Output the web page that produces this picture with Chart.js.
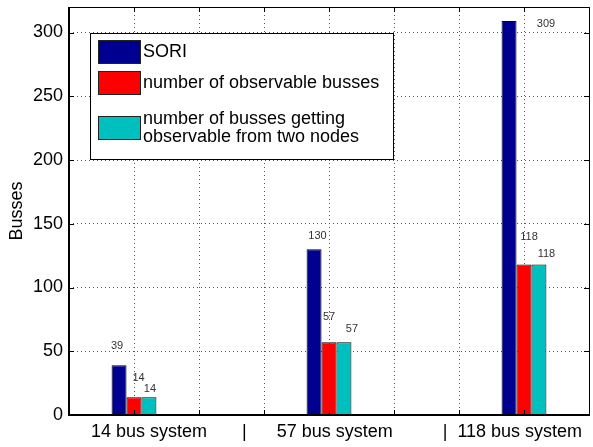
<!DOCTYPE html>
<html lang="en">
<head>
    <meta charset="UTF-8">
    <title>Busses</title>
    <script src="https://cdn.jsdelivr.net/npm/chart.js"></script>
    <style>
        body {
            margin: 0;
            padding: 0;
            background: #fff;
        }
        #wrap {
            width: 593px;
            height: 447px;
        }
    </style>
</head>
<body>

<div id="wrap"><canvas id="busChart" width="593" height="447"></canvas></div>

<script>
    // Data
    const categories = ['14 bus system', '57 bus system', '118 bus system'];
    const seriesNames = [
        'SORI',
        'number of observable busses',
        ['number of busses getting', 'observable from two nodes']
    ];
    const sori = [39, 130, 309];
    const observable = [14, 57, 118];
    const fromTwoNodes = [14, 57, 118];
    const yTicks = [0, 50, 100, 150, 200, 250, 300];

    const colors = ['#000090', '#ff0000', '#00bfbf'];
    const FONT = '"Liberation Sans", Arial, sans-serif';

    // x axis runs over 9 slots (0..8), groups sit on slots 1, 4, 7
    const slots = ['', '', '', '', '', '', '', '', ''];
    function toSlots(values) {
        const out = slots.map(() => null);
        values.forEach((v, i) => { out[1 + 3 * i] = v; });
        return out;
    }

    // x label is one long string like the original
    const xTitle = '   ' + categories[0] + ' '.repeat(7) + '|' + ' '.repeat(6) +
        categories[1] + ' '.repeat(10) + '|' + '  ' + categories[2];

    // label nudges (px) relative to bar centre / bar top, per series per group
    const labelNudge = [
        [[-2, -19], [3.5, -13], [37, 3]],
        [[4.5, -19], [0, -25], [5, -28]],
        [[1, -8], [8, -13], [7.5, -11]]
    ];

    const valueLabels = {
        id: 'valueLabels',
        afterDatasetsDraw(chart) {
            const ctx = chart.ctx;
            ctx.save();
            ctx.font = '11px ' + FONT;
            ctx.fillStyle = '#333';
            ctx.textAlign = 'center';
            ctx.textBaseline = 'middle';
            chart.data.datasets.forEach((ds, d) => {
                const meta = chart.getDatasetMeta(d);
                categories.forEach((c, g) => {
                    const bar = meta.data[1 + 3 * g];
                    const v = ds.data[1 + 3 * g];
                    const n = labelNudge[d][g];
                    ctx.fillText(String(v), bar.x + n[0], bar.y + n[1]);
                });
            });
            ctx.restore();
        }
    };

    const boxAndLegend = {
        id: 'boxAndLegend',
        afterDraw(chart) {
            const ctx = chart.ctx;
            const a = chart.chartArea;
            const xs = chart.scales.x, ys = chart.scales.y;
            ctx.save();
            ctx.strokeStyle = '#000';

            // axes box
            ctx.lineWidth = 1;
            ctx.beginPath();
            ctx.moveTo(a.left, a.top + 0.5);
            ctx.lineTo(a.right + 0.5, a.top + 0.5);
            ctx.lineTo(a.right + 0.5, a.bottom);
            ctx.stroke();
            ctx.lineWidth = 2;
            ctx.beginPath();
            ctx.moveTo(a.left, a.top);
            ctx.lineTo(a.left, a.bottom);
            ctx.lineTo(a.right + 1, a.bottom);
            ctx.stroke();

            // inward tick marks
            ctx.lineWidth = 1;
            ctx.beginPath();
            yTicks.forEach(t => {
                const y = Math.round(ys.getPixelForValue(t)) + 0.5;
                ctx.moveTo(a.left, y); ctx.lineTo(a.left + 5, y);
                ctx.moveTo(a.right, y); ctx.lineTo(a.right - 5, y);
            });
            for (let i = 1; i < slots.length - 1; i++) {
                const x = Math.round(xs.getPixelForValue(i)) + 0.5;
                ctx.moveTo(x, a.top); ctx.lineTo(x, a.top + 5);
                ctx.moveTo(x, a.bottom); ctx.lineTo(x, a.bottom - 5);
            }
            ctx.stroke();

            // legend
            const lx = 90.5, ly = 33.5, lw = 303, lh = 126;
            ctx.fillStyle = '#fff';
            ctx.fillRect(lx, ly, lw, lh);
            ctx.strokeRect(lx, ly, lw, lh);
            const rows = [40, 71, 116];
            ctx.font = '18px ' + FONT;
            ctx.textAlign = 'left';
            ctx.textBaseline = 'middle';
            seriesNames.forEach((name, i) => {
                ctx.fillStyle = colors[i];
                ctx.fillRect(98, rows[i], 42, 23);
                ctx.strokeStyle = '#222';
                ctx.strokeRect(98.5, rows[i] + 0.5, 42, 23);
                ctx.fillStyle = '#000';
                if (Array.isArray(name)) {
                    ctx.fillText(name[0], 143, rows[i] + 3);
                    ctx.fillText(name[1], 143, rows[i] + 21);
                } else {
                    ctx.fillText(name, 143, rows[i] + 12);
                }
            });
            ctx.restore();
        }
    };

    const ctx = document.getElementById('busChart').getContext('2d');
    const busChart = new Chart(ctx, {
        type: 'bar',
        data: {
            labels: slots,
            datasets: [sori, observable, fromTwoNodes].map((vals, i) => ({
                label: Array.isArray(seriesNames[i]) ? seriesNames[i].join(' ') : seriesNames[i],
                data: toSlots(vals),
                backgroundColor: colors[i],
                borderColor: '#000',
                borderWidth: 1,
                categoryPercentage: 0.69,
                barPercentage: 1.0
            }))
        },
        options: {
            responsive: false,
            animation: false,
            layout: { padding: { top: 7, right: 4, left: 0, bottom: 0 } },
            plugins: {
                legend: { display: false },
                tooltip: { enabled: false }
            },
            scales: {
                x: {
                    offset: false,
                    grid: { offset: false, color: '#555', lineWidth: 1, drawTicks: false },
                    border: { display: false, dash: [1, 3] },
                    ticks: { display: false },
                    title: {
                        display: true,
                        text: xTitle,
                        color: '#000',
                        font: { family: FONT, size: 18 },
                        padding: { top: 0, bottom: 4 }
                    },
                    afterFit: s => { s.height = 32; }
                },
                y: {
                    min: 0,
                    max: 320,
                    grid: { color: '#555', lineWidth: 1, drawTicks: false },
                    border: { display: false, dash: [1, 3] },
                    ticks: {
                        stepSize: 50,
                        padding: 6,
                        color: '#000',
                        font: { family: FONT, size: 18 }
                    },
                    afterBuildTicks: s => { s.ticks = yTicks.map(v => ({ value: v })); },
                    title: {
                        display: true,
                        text: 'Busses',
                        color: '#000',
                        font: { family: FONT, size: 18 },
                        padding: { top: 6, bottom: 0 }
                    },
                    afterFit: s => { s.width = 69; s.paddingTop = 0; s.paddingBottom = 0; }
                }
            }
        },
        plugins: [valueLabels, boxAndLegend]
    });
</script>

</body>
</html>
